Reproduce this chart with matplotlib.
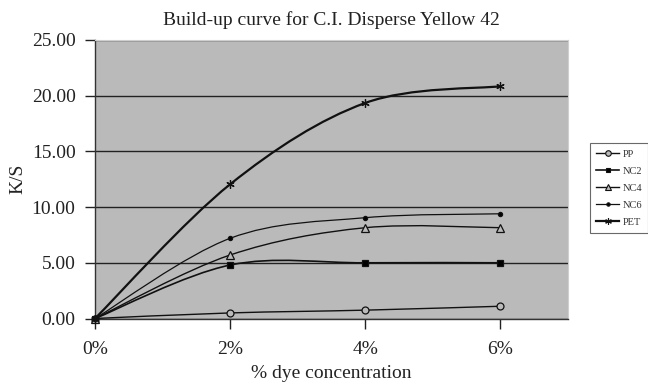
import matplotlib
matplotlib.use("Agg")
import matplotlib.pyplot as plt
import numpy as np
from matplotlib.path import Path
from matplotlib.patches import PathPatch
from matplotlib.lines import Line2D

conc = [0, 2, 4, 6]
x_ticklabels = ["0%", "2%", "4%", "6%"]
series_names = ["PP", "NC2", "NC4", "NC6", "PET"]
pp = [0.0, 0.5, 0.75, 1.1]
nc2 = [0.0, 4.8, 5.0, 5.0]
nc4 = [0.0, 5.7, 8.15, 8.15]
nc6 = [0.0, 7.2, 9.05, 9.4]
pet = [0.0, 12.05, 19.35, 20.85]
y_ticks = [0, 5, 10, 15, 20, 25]

plt.rcParams['font.family'] = ['Liberation Serif', 'DejaVu Serif']

fig = plt.figure(figsize=(6.48, 3.90), dpi=100)
ax = fig.add_axes([95/648, 1-318.5/390, (568-95)/648, (318.5-40)/390])
ax.set_facecolor('#bababa')


def smooth_path(xs, ys):
    pts = np.column_stack([xs, ys]).astype(float)
    n = len(pts)
    verts = [pts[0]]
    codes = [Path.MOVETO]
    for i in range(n - 1):
        p0 = pts[i - 1] if i > 0 else pts[i]
        p1 = pts[i]
        p2 = pts[i + 1]
        p3 = pts[i + 2] if i + 2 < n else pts[i + 1]
        c1 = p1 + (p2 - p0) / 6.0
        c2 = p2 - (p3 - p1) / 6.0
        verts += [c1, c2, p2]
        codes += [Path.CURVE4] * 3
    return Path(verts, codes)

styles = {
    "PP": dict(marker='o', mfc='#bababa', ms=5, lw=1.0),
    "NC2": dict(marker='s', mfc='black', ms=4, lw=1.2),
    "NC4": dict(marker='^', mfc='#bababa', ms=6, lw=1.0),
    "NC6": dict(marker='o', mfc='black', ms=3, lw=0.9),
    "PET": dict(marker=(6, 2, 0), mfc='black', ms=6, lw=1.6),
}
data = {"PP": pp, "NC2": nc2, "NC4": nc4, "NC6": nc6, "PET": pet}

handles = []
for name in series_names:
    st = styles[name]
    ys = data[name]
    patch = PathPatch(smooth_path(conc, ys), facecolor='none', edgecolor='#111111', lw=st['lw'], zorder=3)
    ax.add_patch(patch)
    ax.plot(conc, ys, linestyle='none', marker=st['marker'], mfc=st['mfc'], mec='#111111',
            ms=st['ms'], mew=0.9, zorder=4, clip_on=False)
    handles.append(Line2D([], [], color='#111111', lw=st['lw'], marker=st['marker'], mfc=st['mfc'],
                          mec='#111111', ms=st['ms'] * 0.8, mew=0.8))

ax.set_xlim(0, 7)
ax.set_ylim(0, 25)
ax.set_xticks(conc)
ax.set_xticklabels(x_ticklabels)
ax.set_yticks(y_ticks)
ax.set_yticklabels([f"{v:.2f}" for v in y_ticks])
ax.yaxis.grid(True, color='#222222', lw=1.0)
ax.set_axisbelow(True)
ax.tick_params(axis='both', direction='out', length=7, width=1.0, colors='#222222', labelsize=14, labelcolor='#222222')
ax.tick_params(axis='x', pad=9)
ax.tick_params(axis='y', pad=7)
for s in ['top', 'right']:
    ax.spines[s].set_color('#cfcfcf')
for s in ['left', 'bottom']:
    ax.spines[s].set_color('#333333')
    ax.spines[s].set_linewidth(1.0)

ax.set_title("Build-up curve for C.I. Disperse Yellow 42", fontsize=14, color='#222222', pad=11)
ax.set_xlabel("% dye concentration", fontsize=14, color='#222222', labelpad=5)
ax.set_ylabel("K/S", fontsize=14, color='#222222', labelpad=4)

leg = fig.legend(handles, series_names, loc='upper left', bbox_to_anchor=(590/648, 1-143/390),
                 frameon=True, fontsize=7.5, handlelength=2.2, handletextpad=0.3, borderpad=0.6,
                 labelspacing=0.75, fancybox=False, borderaxespad=0)
leg.get_frame().set_edgecolor('#444444')
leg.get_frame().set_linewidth(0.8)
for t in leg.get_texts():
    t.set_color('#333333')

fig.savefig("out.png", dpi=100, facecolor='white')
